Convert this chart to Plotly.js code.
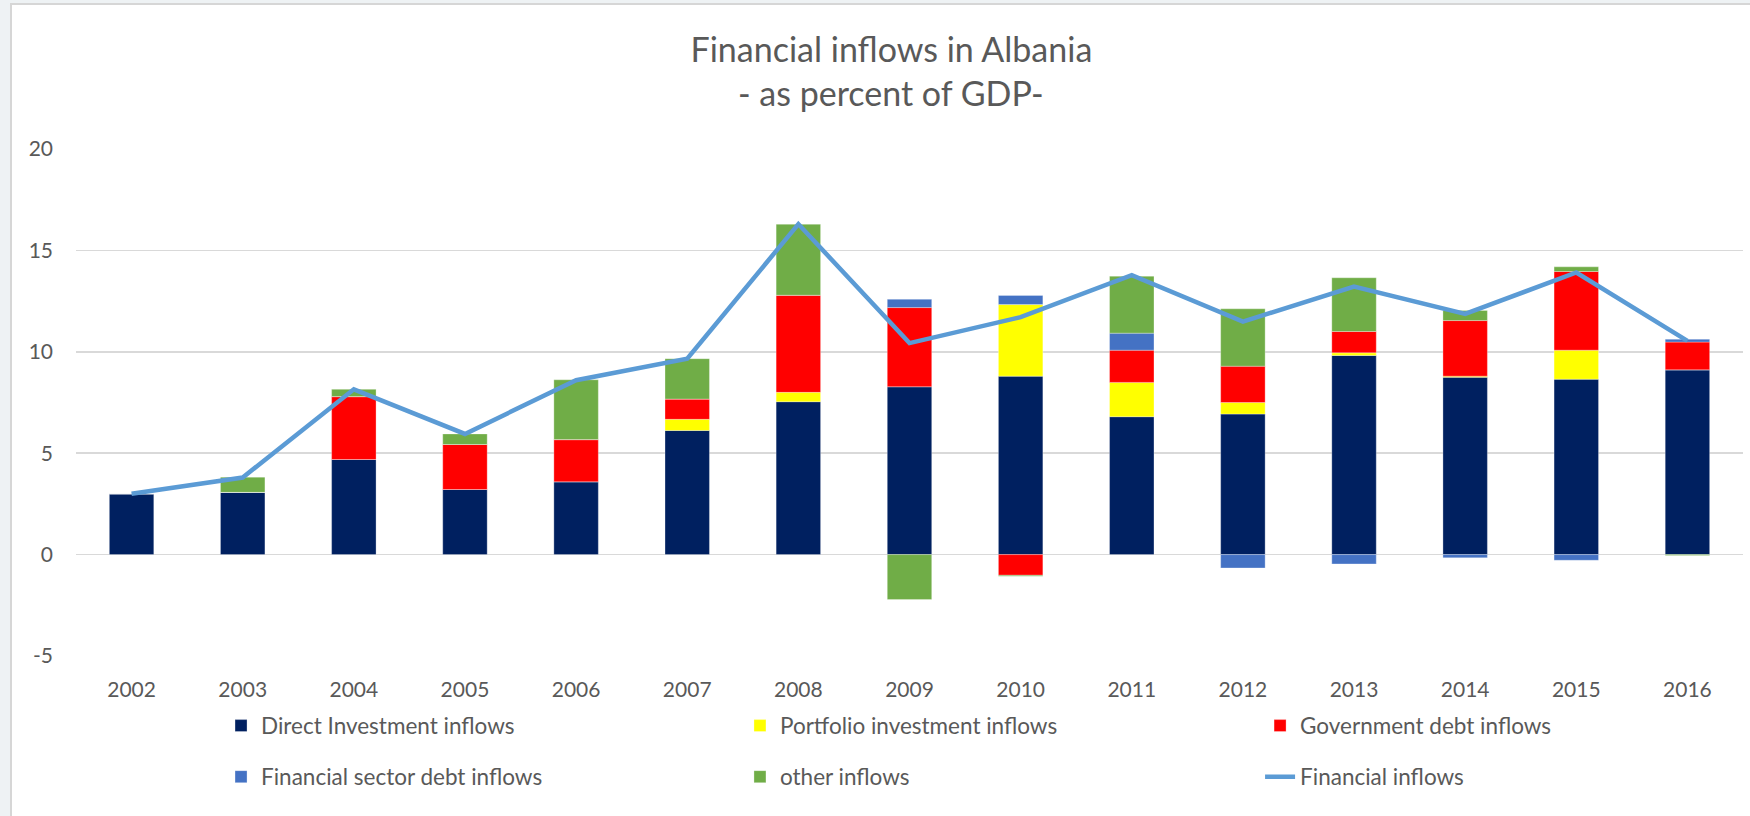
<!DOCTYPE html>
<html>
<head>
<meta charset="utf-8">
<script src="https://cdn.plot.ly/plotly-3.0.1.min.js"></script>
<style>
  html, body { margin: 0; padding: 0; background: #eef2f4; width: 1750px; height: 816px; overflow: hidden; }
  #frame { position: absolute; left: 10px; top: 3px; width: 1740px; height: 813px; background: #ffffff;
           border-left: 2px solid #d6d6d6; border-top: 2px solid #d6d6d6; box-sizing: border-box; }
  #chart { width: 1738px; height: 811px; }
</style>
</head>
<body>
<div id="frame"><div id="chart"></div></div>
<script>
const years = ['2002','2003','2004','2005','2006','2007','2008','2009','2010','2011','2012','2013','2014','2015','2016'];
const directInvestment = [3.00, 3.07, 4.69, 3.21, 3.59, 6.12, 7.54, 8.28, 8.80, 6.80, 6.93, 9.82, 8.74, 8.65, 9.11];
const portfolioInvestment = [0, 0, 0, 0, 0, 0.55, 0.46, 0, 3.53, 1.69, 0.57, 0.13, 0.06, 1.43, 0];
const governmentDebt = [0, 0, 3.10, 2.22, 2.08, 1.00, 4.79, 3.90, -1.02, 1.59, 1.79, 1.05, 2.74, 3.88, 1.37];
const financialSectorDebt = [0, 0, 0, 0, 0, 0, 0, 0.41, 0.45, 0.84, -0.66, -0.46, -0.16, -0.28, 0.14];
const otherInflows = [0, 0.75, 0.36, 0.52, 2.95, 1.99, 3.50, -2.22, -0.05, 2.81, 2.83, 2.65, 0.50, 0.23, -0.05];
const financialInflows = [3.00, 3.80, 8.15, 5.95, 8.60, 9.66, 16.30, 10.43, 11.71, 13.78, 11.49, 13.22, 11.87, 13.91, 10.54];

const yTickValues = [-5, 0, 5, 10, 15, 20];
const yTickLabels = ['-5', '0', '5', '10', '15', '20'];

const seriesNames = ['Direct Investment inflows', 'Portfolio investment inflows', 'Government debt inflows',
                     'Financial sector debt inflows', 'other inflows', 'Financial inflows'];
const colors = ['#002060', '#FFFF00', '#FF0000', '#4472C4', '#70AD47', '#5B9BD5'];
const barSeries = [directInvestment, portfolioInvestment, governmentDebt, financialSectorDebt, otherInflows];

const textColor = '#595959';
const fontFamily = 'Lato, "Open Sans", sans-serif';
const legendIds = ['legend', 'legend2', 'legend3', 'legend4', 'legend5', 'legend6'];

const traces = barSeries.map((vals, i) => ({
  type: 'bar',
  x: years,
  y: vals,
  name: seriesNames[i],
  legend: legendIds[i],
  marker: { color: colors[i], line: { color: 'rgba(255,255,255,0.5)', width: 0.6 } }
}));
traces.push({
  type: 'scatter',
  mode: 'lines',
  x: years,
  y: financialInflows,
  name: seriesNames[5],
  legend: legendIds[5],
  line: { color: colors[5], width: 4.5 }
});

const colX = [0.0870, 0.3983, 0.7103];
const rowY = [-0.138, -0.2387];

const layout = {
  width: 1738,
  height: 811,
  paper_bgcolor: '#ffffff',
  plot_bgcolor: '#ffffff',
  margin: { l: 64, r: 7, t: 144, b: 160 },
  barmode: 'relative',
  bargap: 0.6,
  font: { family: fontFamily, color: textColor },
  title: {
    text: 'Financial inflows in Albania',
    font: { family: fontFamily, size: 34, color: textColor },
    x: 0.506, xref: 'container', xanchor: 'center',
    y: 1 - 45 / 811, yref: 'container', yanchor: 'middle'
  },
  annotations: [{
    text: '- as percent of GDP-',
    showarrow: false,
    xref: 'paper', yref: 'paper',
    x: (879 - 64) / 1667, y: (651 - 87) / 507,
    xanchor: 'center', yanchor: 'middle',
    font: { family: fontFamily, size: 34, color: textColor }
  }],
  xaxis: {
    type: 'category',
    showgrid: false,
    showline: false,
    zeroline: false,
    ticks: '',
    ticklabelstandoff: 19,
    tickfont: { family: fontFamily, size: 21, color: textColor }
  },
  yaxis: {
    range: [-5, 20],
    tickmode: 'array',
    tickvals: yTickValues,
    ticktext: yTickLabels,
    showgrid: true,
    gridcolor: '#d9d9d9',
    gridwidth: 1.5,
    zeroline: true,
    zerolinecolor: '#d9d9d9',
    zerolinewidth: 1.5,
    showline: false,
    ticks: '',
    ticklabelstandoff: 22,
    tickfont: { family: fontFamily, size: 21, color: textColor }
  },
  showlegend: true
};

legendIds.forEach((id, i) => {
  layout[id] = {
    orientation: 'h',
    xanchor: 'left',
    yanchor: 'middle',
    x: colX[i % 3],
    y: rowY[Math.floor(i / 3)],
    font: { family: fontFamily, size: 22.5, color: textColor },
    bgcolor: 'rgba(0,0,0,0)'
  };
});

Plotly.newPlot('chart', traces, layout, { displayModeBar: false, staticPlot: true });
</script>
</body>
</html>
